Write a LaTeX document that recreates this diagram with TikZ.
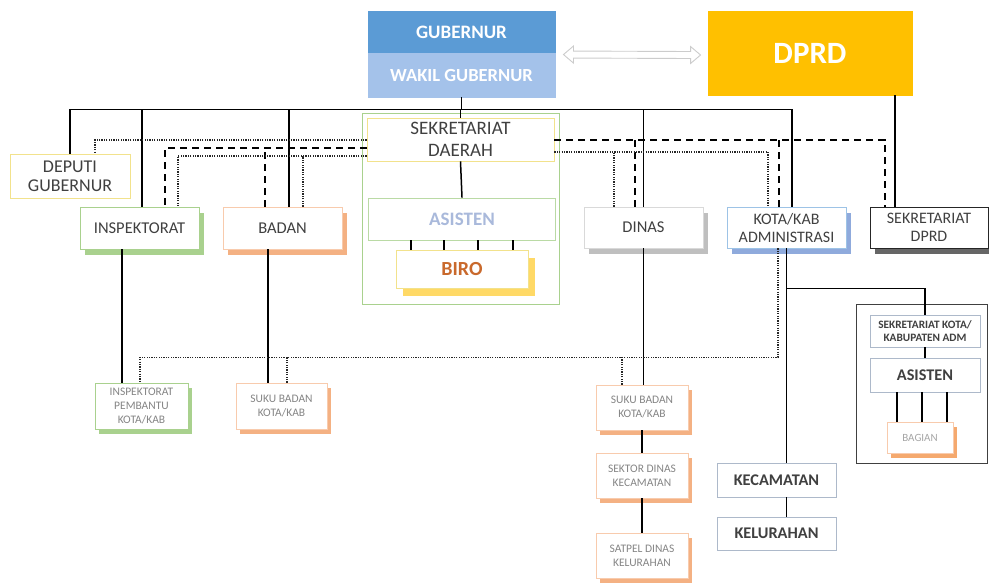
\documentclass[tikz,border=0pt]{standalone}
\usepackage{fontspec}
\setmainfont{Carlito}
\usetikzlibrary{calc,shadows}
\definecolor{gubC}{HTML}{5B9BD5}
\definecolor{wakC}{HTML}{A4C2EA}
\definecolor{dprdC}{HTML}{FFC000}
\definecolor{txtC}{HTML}{404040}
\definecolor{txtL}{HTML}{858585}
\definecolor{yelB}{HTML}{F2E28C}
\definecolor{grnB}{HTML}{A9D18E}
\definecolor{grnS}{HTML}{A9D18E}
\definecolor{orgB}{HTML}{F8CBAD}
\definecolor{orgS}{HTML}{F4B183}
\definecolor{orgD}{HTML}{F5A96E}
\definecolor{bluB}{HTML}{9DC3E6}
\definecolor{bluS}{HTML}{8FAADC}
\definecolor{gryB}{HTML}{D9D9D9}
\definecolor{gryS}{HTML}{BFBFBF}
\definecolor{biroS}{HTML}{FFD966}
\definecolor{biroT}{HTML}{C9692C}
\definecolor{asisT}{HTML}{A9B9DB}
\definecolor{slateB}{HTML}{ADB9CA}
\tikzset{
  box/.style={rectangle, draw, fill=white, inner sep=0pt, align=center, text=txtC, line width=0.9pt},
  shad/.style={drop shadow={opacity=1, fill=#1, shadow xshift=5pt, shadow yshift=-6pt}},
  shadsm/.style={drop shadow={opacity=1, fill=#1, shadow xshift=4pt, shadow yshift=-5pt}},
  topfont/.style={font=\fontsize{16.5}{18}\selectfont},
  smfont/.style={font=\fontsize{11.5}{14}\selectfont, text=txtL},
  sol/.style={line width=1.5pt, black},
  dsh/.style={line width=1.8pt, black, dash pattern=on 7pt off 5pt},
  dot/.style={line width=1.4pt, black!85, dash pattern=on 1.2pt off 1.2pt}
}
\begin{document}
\begin{tikzpicture}[x=1pt,y=-1pt]
\useasboundingbox (0,0) rectangle (989,582);
% frames
\node[draw=grnB, line width=0.9pt, minimum width=197pt, minimum height=191pt, inner sep=0pt] (sekdaFrame) at (460.5,208.5) {};
\node[draw=black!75, line width=0.9pt, minimum width=131pt, minimum height=159pt, inner sep=0pt] (admFrame) at (921.5,383.5) {};
% top
\node[box, fill=gubC, draw=gubC, text=white, font=\bfseries\fontsize{19}{21}\selectfont, minimum width=187pt, minimum height=42pt] (gub) at (461.5,32) {GUBERNUR};
\node[box, fill=wakC, draw=wakC, text=white, font=\bfseries\fontsize{18.5}{21}\selectfont, minimum width=187pt, minimum height=44pt] (wakil) at (461.5,75) {WAKIL GUBERNUR};
\node[box, fill=dprdC, draw=dprdC, text=white, font=\bfseries\fontsize{31}{33}\selectfont, minimum width=204pt, minimum height=84pt] (dprd) at (810,53) {DPRD};
% second row
\node[box, draw=yelB, font=\fontsize{18}{19}\selectfont, minimum width=120pt, minimum height=44pt] (deputi) at (70,176) {DEPUTI\\GUBERNUR};
\node[box, draw=grnB, shad=grnS, topfont, minimum width=119pt, minimum height=42pt] (insp) at (139.5,228) {INSPEKTORAT};
\node[box, draw=orgB, shad=orgS, topfont, minimum width=119pt, minimum height=42pt] (badan) at (282.5,228) {BADAN};
\node[box, draw=yelB, font=\fontsize{19}{22}\selectfont, minimum width=187pt, minimum height=43pt] (sekda) at (460.5,139.5) {SEKRETARIAT\\DAERAH};
\node[box, draw=grnB!80, text=asisT, font=\bfseries\fontsize{19}{21}\selectfont, minimum width=187pt, minimum height=42pt] (asisten) at (462,219) {ASISTEN};
\node[box, draw=yelB, drop shadow={opacity=1, fill=biroS, shadow xshift=7pt, shadow yshift=-8pt}, text=biroT, font=\bfseries\fontsize{20}{22}\selectfont, minimum width=132pt, minimum height=38pt] (biro) at (462,269) {BIRO};
\node[box, draw=gryB, shad=gryS, topfont, minimum width=119pt, minimum height=41pt] (dinas) at (643.5,227.5) {DINAS};
\node[box, draw=bluB, shad=bluS, font=\fontsize{16}{18}\selectfont, minimum width=119pt, minimum height=41pt] (kota) at (786.5,227.5) {KOTA/KAB\\ADMINISTRASI};
\node[box, draw=black!85, shad=black!60, font=\fontsize{16}{18}\selectfont, minimum width=118pt, minimum height=41pt] (sekdprd) at (929,227.5) {SEKRETARIAT\\DPRD};
% bottom small boxes
\node[box, draw=grnB, shadsm=grnS, smfont, minimum width=93pt, minimum height=46pt] (inspPemb) at (141.5,406) {INSPEKTORAT\\PEMBANTU\\KOTA/KAB};
\node[box, draw=orgB, shadsm=orgS, smfont, minimum width=91pt, minimum height=46pt] (sukuL) at (281.5,406) {SUKU BADAN\\KOTA/KAB};
\node[box, draw=orgB, shadsm=orgS, smfont, minimum width=92pt, minimum height=45pt] (sukuR) at (642,407.5) {SUKU BADAN\\KOTA/KAB};
\node[box, draw=orgB, shadsm=orgS, smfont, minimum width=92pt, minimum height=45pt] (sektor) at (642,475.5) {SEKTOR DINAS\\KECAMATAN};
\node[box, draw=orgB, shadsm=orgS, smfont, minimum width=92pt, minimum height=45pt] (satpel) at (642,555.5) {SATPEL DINAS\\KELURAHAN};
% right block
\node[box, draw=slateB, font=\bfseries\fontsize{11.3}{12.5}\selectfont, minimum width=110pt, minimum height=32pt] (sekkota) at (925,331) {SEKRETARIAT KOTA/\\KABUPATEN ADM};
\node[box, draw=slateB, font=\bfseries\fontsize{16.3}{18}\selectfont, minimum width=110pt, minimum height=34pt] (asistenR) at (925,375) {ASISTEN};
\node[box, draw=orgB, shadsm=orgD, text=black!35, font=\fontsize{11}{12}\selectfont, minimum width=66pt, minimum height=31pt] (bagian) at (920,437.5) {BAGIAN};
\node[box, draw=slateB, font=\bfseries\fontsize{16.3}{18}\selectfont, minimum width=119pt, minimum height=34pt] (kec) at (776.5,480) {KECAMATAN};
\node[box, draw=slateB, font=\bfseries\fontsize{16.3}{18}\selectfont, minimum width=119pt, minimum height=33pt] (kel) at (776.5,533.5) {KELURAHAN};
% double arrow between GUBERNUR and DPRD
\coordinate (aL) at ($(wakil.north east)+(8,2)$);
\coordinate (aR) at ($(dprd.west)+(-7,2)$);
\draw[gray!40, fill=white, line width=0.9pt] (aL) -- ($(aL)+(10,-8.5)$) -- ($(aL)+(10,-3.5)$) -- ($(aR)+(-10,-3.5)$) -- ($(aR)+(-10,-8.5)$) -- (aR) -- ($(aR)+(-10,8.5)$) -- ($(aR)+(-10,3.5)$) -- ($(aL)+(10,3.5)$) -- ($(aL)+(10,8.5)$) -- cycle;
% solid bus
\coordinate (bus) at ($(wakil.south)+(0,12)$);
\draw[sol] (wakil.south) -- (bus);
\draw[sol] (deputi.north) |- (bus);
\coordinate (kN) at ($(kota.north)+(5.5,0)$);
\draw[sol] (kN) |- (bus);
\coordinate (iN) at ($(insp.north)+(2.5,0)$);
\draw[sol] (iN) -- (iN |- bus);
\coordinate (bN) at ($(badan.north)+(6.5,0)$);
\draw[sol] (bN) -- (bN |- bus);
\draw[sol] (sekda.north) -- (sekda.north |- bus);
\draw[sol] (dinas.north) -- (dinas.north |- bus);
\coordinate (dpS) at ($(dprd.south)+(85,0)$);
\draw[sol] (dpS) -- (dpS |- sekdprd.north);
% inside sekretariat daerah
\draw[sol] (sekda.south) -- (asisten.north);
\foreach \dx in {-51,-18,16,51}{
  \coordinate (ab) at ($(asisten.south)+(\dx,0)$);
  \draw[sol] (ab) -- (ab |- biro.north);
}
% lower solid lines
\coordinate (iS) at ($(insp.south)+(-17.5,0)$);
\draw[sol] (iS) -- (iS |- inspPemb.north);
\coordinate (bS) at ($(badan.south)+(-14.5,0)$);
\draw[sol] (bS) -- (bS |- sukuL.north);
\draw[sol] (dinas.south) -- (dinas.south |- sukuR.north);
\draw[sol] (sukuR.south) -- (sektor.north);
\draw[sol] (sektor.south) -- (satpel.north);
\draw[sol] (kota.south) -- (kota.south |- kec.north);
\coordinate (kb) at ($(kota.south)+(0,40)$);
\draw[sol] (kb) -| (sekkota.north);
\draw[sol] (kec.south -| kota.south) -- (kel.north -| kota.south);
\draw[sol] (sekkota.south) -- (asistenR.north);
\foreach \dx in {-28,-3,22}{
  \coordinate (ag) at ($(asistenR.south)+(\dx,0)$);
  \draw[sol] (ag) -- (ag |- bagian.north);
}
% dashed lines
\coordinate (dL) at ($(sekda.west)+(0,8.5)$);
\coordinate (dI) at ($(insp.north)+(25.5,0)$);
\draw[dsh] (dL) -| (dI);
\coordinate (dB) at ($(badan.north)+(-17.5,0)$);
\draw[dsh] (dB) -- (dB |- dL);
\coordinate (dR) at ($(sekda.east)+(0,0.5)$);
\coordinate (dP) at ($(sekdprd.north)+(-44,0)$);
\draw[dsh] (dR) -| (dP);
\coordinate (dD) at ($(dinas.north)+(-8.5,0)$);
\draw[dsh] (dD) -- (dD |- dR);
\coordinate (dK) at ($(kota.north)+(-7.5,0)$);
\draw[dsh] (dK) -- (dK |- dR);
% dotted lines
\coordinate (tL1) at ($(sekda.west)+(0,0.5)$);
\coordinate (tDep) at ($(deputi.north)+(25,0)$);
\draw[dot] (tL1) -| (tDep);
\coordinate (tL2) at ($(sekda.west)+(0,16.5)$);
\coordinate (tI) at ($(insp.north)+(38.5,0)$);
\draw[dot] (tL2) -| (tI);
\coordinate (tB) at ($(badan.north)+(20.5,0)$);
\draw[dot] (tB) -- (tB |- tL2);
\coordinate (tR) at ($(sekda.east)+(0,12.5)$);
\coordinate (tK) at ($(kota.north)+(-18.5,0)$);
\draw[dot] (tR) -| (tK);
\coordinate (tD) at ($(dinas.north)+(-29.5,0)$);
\draw[dot] (tD) -- (tD |- tR);
\coordinate (tKs) at ($(kota.south)+(-8.5,0)$);
\coordinate (tBus) at ($(kota.south)+(-8.5,109)$);
\coordinate (tIP) at ($(inspPemb.north)+(-1.5,0)$);
\draw[dot] (tKs) -- (tBus) -| (tIP);
\coordinate (tSL) at ($(sukuL.north)+(5.5,0)$);
\draw[dot] (tSL) -- (tSL |- tBus);
\coordinate (tSR) at ($(sukuR.north)+(-20,0)$);
\draw[dot] (tSR) -- (tSR |- tBus);
\end{tikzpicture}
\end{document}
